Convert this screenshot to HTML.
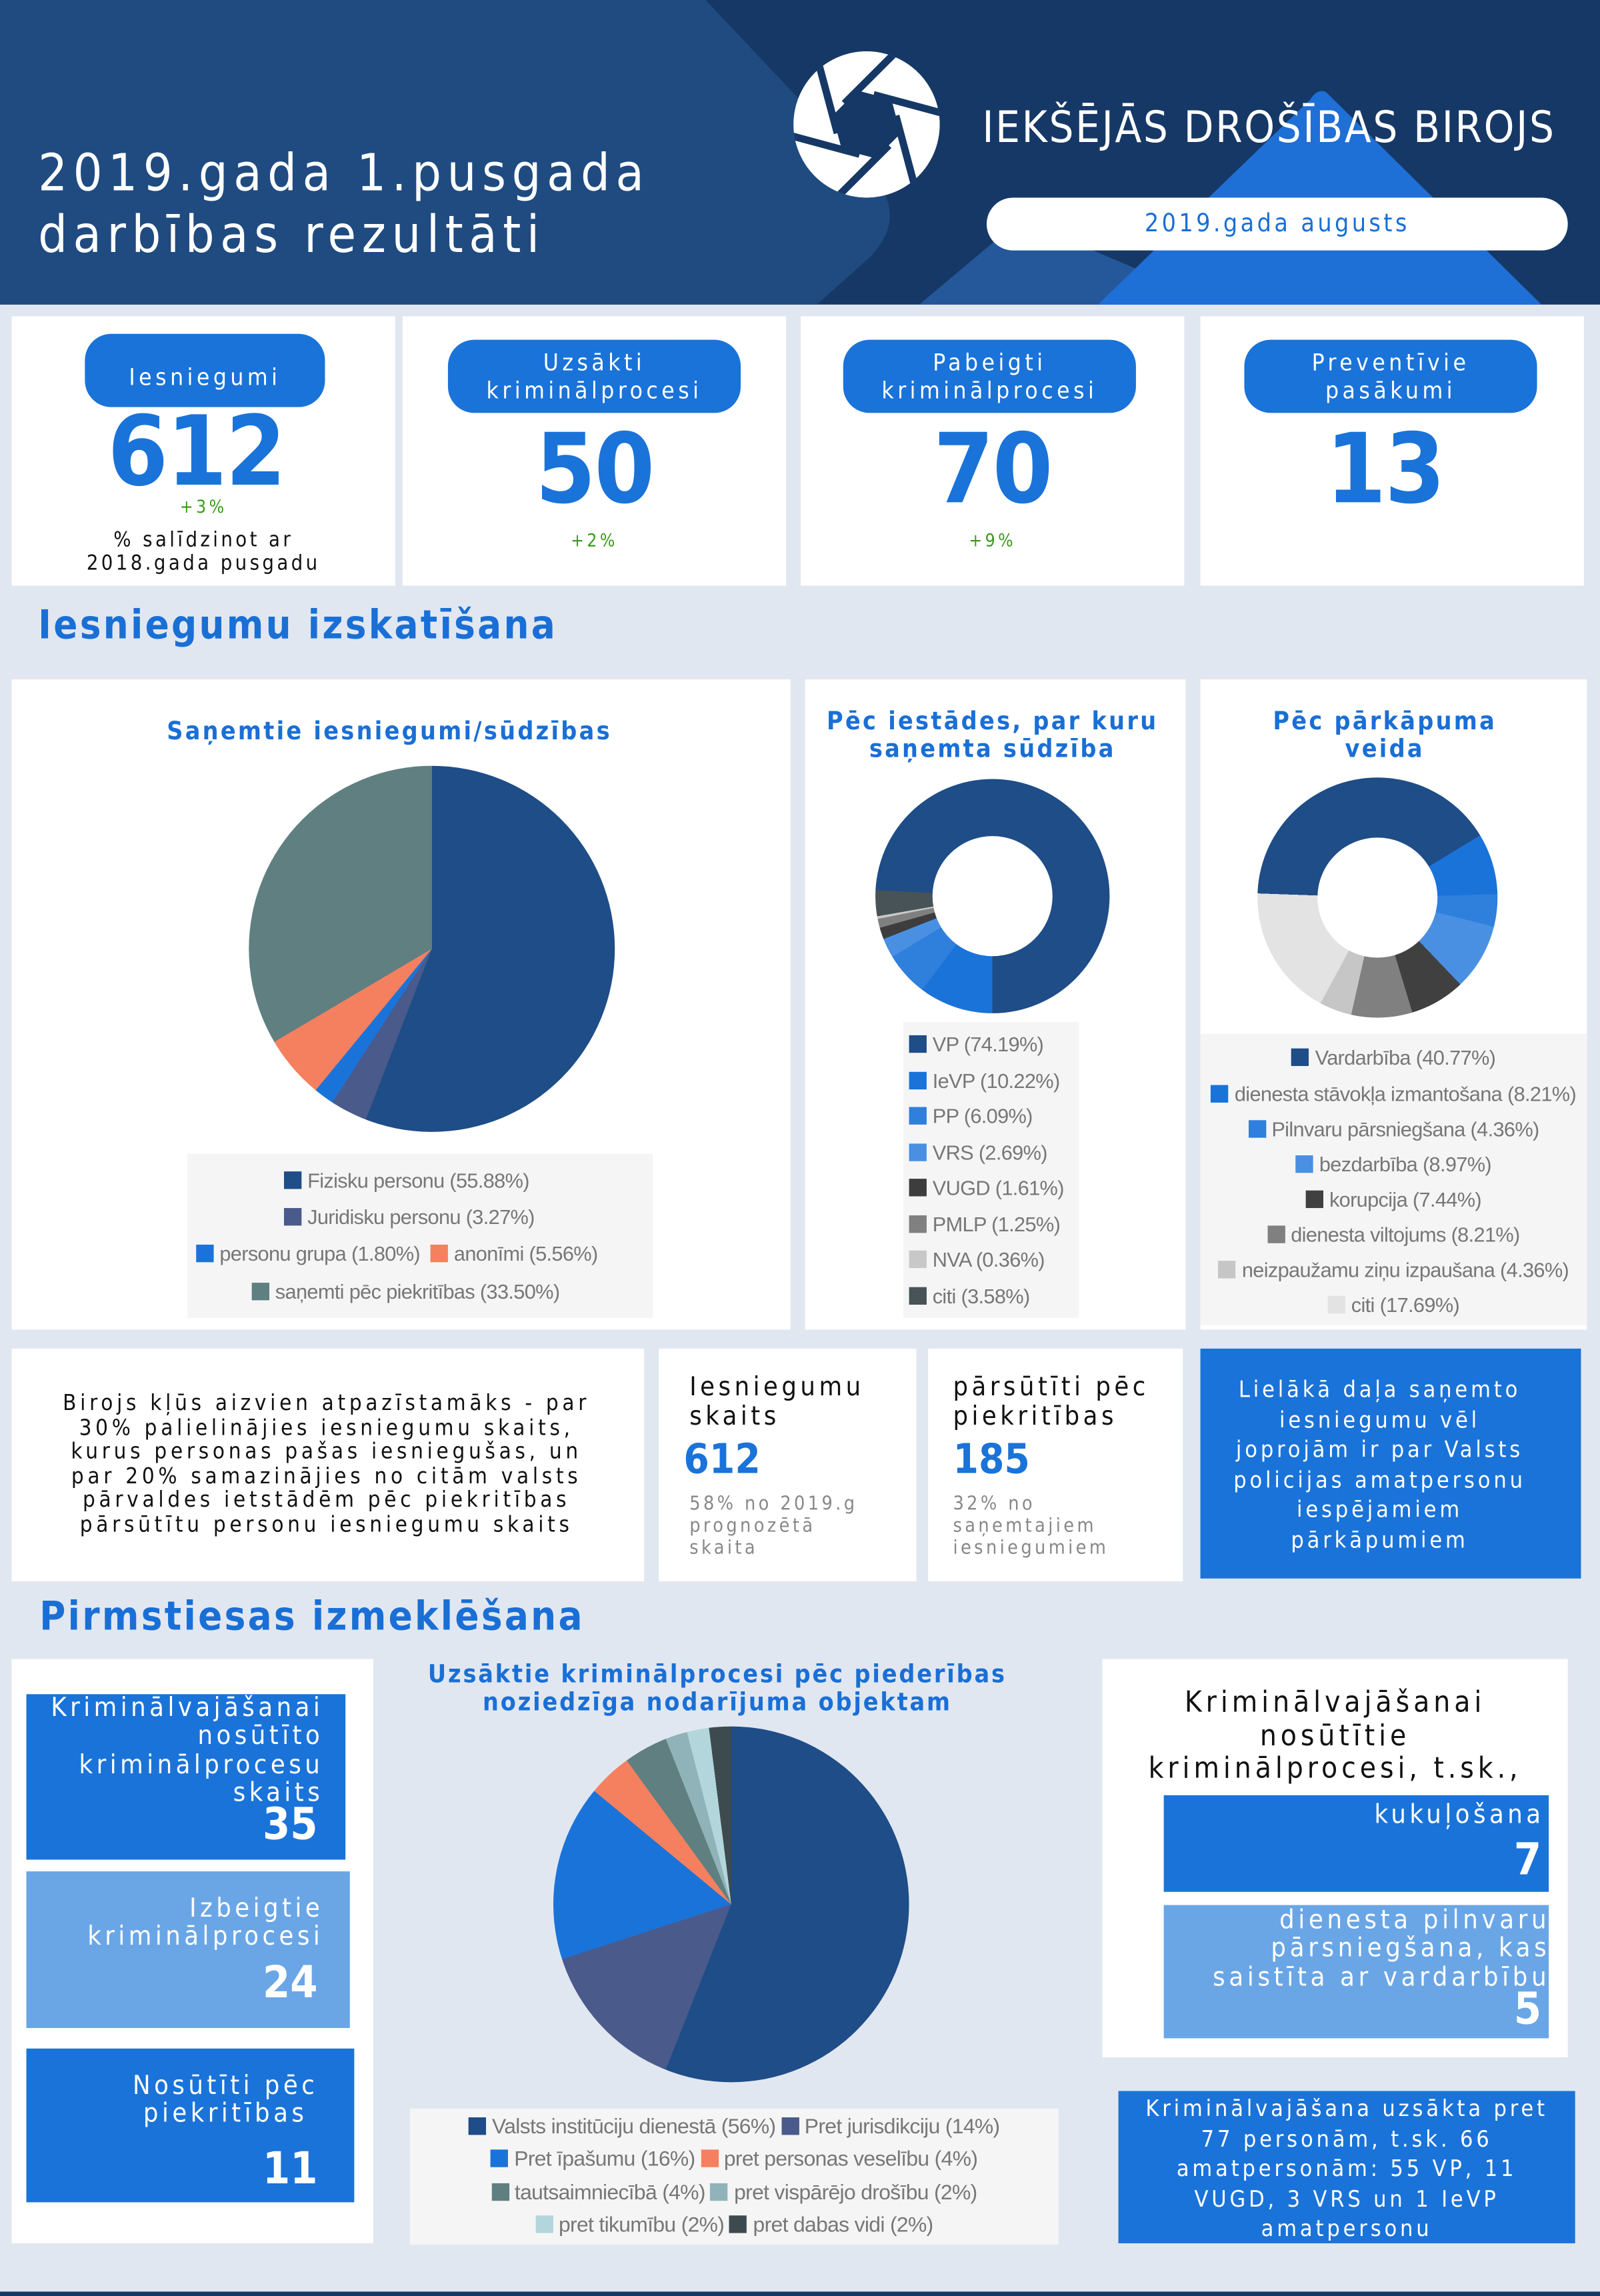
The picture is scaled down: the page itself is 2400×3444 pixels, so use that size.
<!DOCTYPE html>
<html><head><meta charset="utf-8"><style>
html,body{margin:0;padding:0;}
body{width:2400px;height:3444px;overflow:hidden;background:#e1e7f0;}
#w{position:absolute;left:0;top:0;width:1093px;height:1568px;transform:scale(2.19579,2.19643);transform-origin:0 0;background:#e1e7f0;font-family:"DejaVu Sans Condensed","DejaVu Sans",sans-serif;}
.a{position:absolute;}
.card{position:absolute;background:#fff;}
.pill{position:absolute;background:#1a73d9;color:#fff;border-radius:18px;text-align:center;font-size:16px;letter-spacing:2.5px;line-height:19px;display:flex;align-items:center;justify-content:center;}
.big{position:absolute;color:#1a73d9;font-family:"DejaVu Sans Condensed",sans-serif;font-weight:bold;font-size:66px;text-align:center;letter-spacing:-1px;}
.grn{position:absolute;color:#3a9a1a;font-size:12px;letter-spacing:2px;text-align:center;}
.h{position:absolute;color:#1a6fd6;font-weight:bold;font-size:27px;letter-spacing:1.5px;}
.ct{position:absolute;color:#1a6fd6;font-weight:bold;font-size:17px;letter-spacing:1.5px;text-align:center;line-height:19px;}
.lg{position:absolute;background:#f5f5f5;font-family:"Liberation Sans",sans-serif;font-size:14px;color:#777;letter-spacing:-0.3px;}
.lg div{position:absolute;white-space:nowrap;}
.sw{display:inline-block;width:12px;height:12px;vertical-align:-1px;margin-right:4px;}
.bl{position:absolute;color:#fff;text-align:right;font-size:18px;letter-spacing:2.5px;line-height:19.3px;white-space:nowrap;}
.num{position:absolute;color:#fff;text-align:right;font-family:"DejaVu Sans Condensed",sans-serif;font-weight:bold;font-size:30px;line-height:30px;}
</style></head><body><div id="w">
<!-- header -->
<div class="a" style="left:0;top:0;width:1093px;height:208px;background:#163866;overflow:hidden;">
<svg width="1093" height="208" style="position:absolute;left:0;top:0">
<defs><clipPath id="cc"><circle r="50"/></clipPath></defs>
<path d="M0 0 H482 L600 125 Q618 150 595 175 L558 208 H0 Z" fill="#1f4b80"/>
<path d="M697 150 L628 208 H834 Z" fill="#24589a"/>
<path d="M906 63 Q900 60 895 68 L750 208 H1053 Z" fill="#1e6fd6"/>
<g transform="translate(592,85)" clip-path="url(#cc)">
<circle r="50" fill="#fff"/>
<polygon points="23.2,6.2 6.2,23.2 -17,17 -23.2,-6.2 -6.2,-23.2 17,-17" fill="#163866"/>
<g stroke="#163866" stroke-width="5">
<line x1="20" y1="-6" x2="38.8" y2="64.4"/>
<line x1="20" y1="-6" x2="38.8" y2="64.4" transform="rotate(60)"/>
<line x1="20" y1="-6" x2="38.8" y2="64.4" transform="rotate(120)"/>
<line x1="20" y1="-6" x2="38.8" y2="64.4" transform="rotate(180)"/>
<line x1="20" y1="-6" x2="38.8" y2="64.4" transform="rotate(240)"/>
<line x1="20" y1="-6" x2="38.8" y2="64.4" transform="rotate(300)"/>
</g></g>
</svg>
<div class="a" style="left:26px;top:98px;color:#fff;font-size:35px;letter-spacing:3.9px;line-height:42px;">2019.gada 1.pusgada<br>darbības rezultāti</div>
<div class="a" style="left:671px;top:70px;color:#fff;font-size:29.5px;letter-spacing:1.2px;">IEKŠĒJĀS DROŠĪBAS BIROJS</div>
<div class="a" style="left:674px;top:135px;width:397px;height:36px;border-radius:18px;background:#fff;color:#1a6fd6;font-size:17px;letter-spacing:2px;text-align:center;line-height:36px;">2019.gada augusts</div>
</div>
<!-- KPI -->
<div class="card" style="left:8px;top:216px;width:262px;height:184px"></div>
<div class="card" style="left:275px;top:216px;width:262px;height:184px"></div>
<div class="card" style="left:547px;top:216px;width:262px;height:184px"></div>
<div class="card" style="left:820px;top:216px;width:262px;height:184px"></div>
<div class="pill" style="left:58px;top:228px;width:164px;height:50px;padding-top:8px;box-sizing:border-box;">Iesniegumi</div>
<div class="pill" style="left:306px;top:232px;width:200px;height:50px;">Uzsākti<br>kriminālprocesi</div>
<div class="pill" style="left:576px;top:232px;width:200px;height:50px;">Pabeigti<br>kriminālprocesi</div>
<div class="pill" style="left:850px;top:232px;width:200px;height:50px;">Preventīvie<br>pasākumi</div>
<div class="big" style="left:8px;top:270px;width:252px;">612</div>
<div class="grn" style="left:8px;top:339px;width:262px;">+3%</div>
<div class="a" style="left:8px;top:361px;width:262px;text-align:center;font-size:14px;letter-spacing:2px;line-height:16px;color:#111;">% salīdzinot ar<br>2018.gada pusgadu</div>
<div class="big" style="left:275px;top:282px;width:262px;">50</div>
<div class="grn" style="left:275px;top:362px;width:262px;">+2%</div>
<div class="big" style="left:547px;top:282px;width:262px;">70</div>
<div class="grn" style="left:547px;top:362px;width:262px;">+9%</div>
<div class="big" style="left:820px;top:282px;width:252px;">13</div>
<div class="h" style="left:26px;top:412px;">Iesniegumu izskatīšana</div>
<!-- row2 -->
<div class="card" style="left:8px;top:464px;width:532px;height:444px"></div>
<div class="card" style="left:550px;top:464px;width:260px;height:444px"></div>
<div class="card" style="left:820px;top:464px;width:264px;height:444px"></div>
<div class="ct" style="left:0px;top:491px;width:532px;">Saņemtie iesniegumi/sūdzības</div>
<div class="ct" style="left:548px;top:484px;width:260px;">Pēc iestādes, par kuru<br>saņemta sūdzība</div>
<div class="ct" style="left:820px;top:484px;width:252px;">Pēc pārkāpuma<br>veida</div>
<div class="a" style="left:170px;top:523px;width:250px;height:250px;border-radius:50%;background:conic-gradient(#1e4d87 0 55.88%,#4a5a8a 55.88% 59.15%,#1a73d9 59.15% 60.95%,#f5805f 60.95% 66.51%,#607f80 66.51% 100%);"></div>
<div class="a" style="left:598px;top:532px;width:160px;height:160px;border-radius:50%;background:conic-gradient(from -87deg,#1e4d87 0 74.19%,#1a73d9 74.19% 84.41%,#2f7fdc 84.41% 90.5%,#4a90e2 90.5% 93.19%,#3d3d3d 93.19% 94.8%,#808080 94.8% 96.05%,#c8c8c8 96.05% 96.41%,#475357 96.41% 100%);"></div>
<div class="a" style="left:637px;top:571px;width:82px;height:82px;border-radius:50%;background:#fff"></div>
<div class="a" style="left:859px;top:531px;width:164px;height:164px;border-radius:50%;background:conic-gradient(from -88deg,#1e4d87 0 40.77%,#1a73d9 40.77% 48.98%,#2f7fdc 48.98% 53.34%,#4a90e2 53.34% 62.31%,#404040 62.31% 69.75%,#808080 69.75% 77.96%,#c6c6c6 77.96% 82.32%,#e3e3e3 82.32% 100%);"></div>
<div class="a" style="left:900px;top:572px;width:82px;height:82px;border-radius:50%;background:#fff"></div>
<div class="lg" style="left:128px;top:788px;width:318px;height:112px;">
<div style="left:66px;top:10px"><span class="sw" style="background:#1e4d87"></span>Fizisku personu (55.88%)</div>
<div style="left:66px;top:35px"><span class="sw" style="background:#4a5a8a"></span>Juridisku personu (3.27%)</div>
<div style="left:6px;top:60px"><span class="sw" style="background:#1a73d9"></span>personu grupa (1.80%) &nbsp;<span class="sw" style="background:#f5805f"></span>anonīmi (5.56%)</div>
<div style="left:44px;top:86px"><span class="sw" style="background:#607f80"></span>saņemti pēc piekritības (33.50%)</div>
</div>
<div class="lg" style="left:617px;top:698px;width:120px;height:202px;">
<div style="left:4px;top:7px"><span class="sw" style="background:#1e4d87"></span>VP (74.19%)</div>
<div style="left:4px;top:32px"><span class="sw" style="background:#1a73d9"></span>IeVP (10.22%)</div>
<div style="left:4px;top:56px"><span class="sw" style="background:#2f7fdc"></span>PP (6.09%)</div>
<div style="left:4px;top:81px"><span class="sw" style="background:#4a90e2"></span>VRS (2.69%)</div>
<div style="left:4px;top:105px"><span class="sw" style="background:#3d3d3d"></span>VUGD (1.61%)</div>
<div style="left:4px;top:130px"><span class="sw" style="background:#808080"></span>PMLP (1.25%)</div>
<div style="left:4px;top:154px"><span class="sw" style="background:#c8c8c8"></span>NVA (0.36%)</div>
<div style="left:4px;top:179px"><span class="sw" style="background:#475357"></span>citi (3.58%)</div>
</div>
<div class="lg" style="left:820px;top:706px;width:264px;height:199px;text-align:center;">
<div style="left:0;width:264px;top:8px"><span class="sw" style="background:#1e4d87"></span>Vardarbība (40.77%)</div>
<div style="left:0;width:264px;top:33px"><span class="sw" style="background:#1a73d9"></span>dienesta stāvokļa izmantošana (8.21%)</div>
<div style="left:0;width:264px;top:57px"><span class="sw" style="background:#2f7fdc"></span>Pilnvaru pārsniegšana (4.36%)</div>
<div style="left:0;width:264px;top:81px"><span class="sw" style="background:#4a90e2"></span>bezdarbība (8.97%)</div>
<div style="left:0;width:264px;top:105px"><span class="sw" style="background:#404040"></span>korupcija (7.44%)</div>
<div style="left:0;width:264px;top:129px"><span class="sw" style="background:#808080"></span>dienesta viltojums (8.21%)</div>
<div style="left:0;width:264px;top:153px"><span class="sw" style="background:#c6c6c6"></span>neizpaužamu ziņu izpaušana (4.36%)</div>
<div style="left:0;width:264px;top:177px"><span class="sw" style="background:#e3e3e3"></span>citi (17.69%)</div>
</div>
<!-- row3 -->
<div class="card" style="left:8px;top:921px;width:432px;height:159px"></div>
<div class="card" style="left:450px;top:921px;width:176px;height:159px"></div>
<div class="card" style="left:634px;top:921px;width:174px;height:159px"></div>
<div class="a" style="left:820px;top:921px;width:260px;height:157px;background:#1a73d9"></div>
<div class="a" style="left:0px;top:950px;width:446px;text-align:center;font-size:15px;letter-spacing:2.6px;line-height:16.5px;color:#111;">Birojs kļūs aizvien atpazīstamāks - par<br>30% palielinājies iesniegumu skaits,<br>kurus personas pašas iesniegušas, un<br>par 20% samazinājies no citām valsts<br>pārvaldes ietstādēm pēc piekritības<br>pārsūtītu personu iesniegumu skaits</div>
<div class="a" style="left:471px;top:938px;font-size:18px;letter-spacing:2.5px;line-height:20px;color:#111;">Iesniegumu<br>skaits</div>
<div class="a" style="left:467px;top:980px;font-size:28px;font-weight:bold;color:#1a73d9;">612</div>
<div class="a" style="left:471px;top:1020px;font-size:13px;letter-spacing:2px;line-height:15px;color:#888;">58% no 2019.g<br>prognozētā<br>skaita</div>
<div class="a" style="left:651px;top:938px;font-size:18px;letter-spacing:2.5px;line-height:20px;color:#111;">pārsūtīti pēc<br>piekritības</div>
<div class="a" style="left:651px;top:980px;font-size:28px;font-weight:bold;color:#1a73d9;">185</div>
<div class="a" style="left:651px;top:1020px;font-size:13px;letter-spacing:2px;line-height:15px;color:#888;">32% no<br>saņemtajiem<br>iesniegumiem</div>
<div class="a" style="left:820px;top:939px;width:245px;text-align:center;color:#fff;font-size:15.5px;letter-spacing:2.2px;line-height:20.5px;">Lielākā daļa saņemto<br>iesniegumu vēl<br>joprojām ir par Valsts<br>policijas amatpersonu<br>iespējamiem<br>pārkāpumiem</div>
<div class="h" style="left:27px;top:1089px;">Pirmstiesas izmeklēšana</div>
<!-- row4 -->
<div class="card" style="left:8px;top:1133px;width:247px;height:399px"></div>
<div class="a" style="left:18px;top:1157px;width:218px;height:113px;background:#1a73d9"></div>
<div class="a" style="left:18px;top:1278px;width:221px;height:107px;background:#6aa6e6"></div>
<div class="a" style="left:18px;top:1399px;width:224px;height:105px;background:#1a73d9"></div>
<div class="bl" style="right:872px;top:1157px;">Kriminālvajāšanai<br>nosūtīto<br>kriminālprocesu<br>skaits</div>
<div class="num" style="right:876px;top:1232px;">35</div>
<div class="bl" style="right:872px;top:1294px;">Izbeigtie<br>kriminālprocesi</div>
<div class="num" style="right:876px;top:1340px;">24</div>
<div class="bl" style="left:44px;top:1415px;width:220px;text-align:center;">Nosūtīti pēc<br>piekritības</div>
<div class="num" style="right:876px;top:1467px;">11</div>
<div class="ct" style="left:270px;top:1135px;width:440px;line-height:19px;letter-spacing:1.3px;">Uzsāktie kriminālprocesi pēc piederības<br>noziedzīga nodarījuma objektam</div>
<div class="a" style="left:378px;top:1179px;width:243px;height:243px;border-radius:50%;background:conic-gradient(#1e4d87 0 56%,#4a5a8a 56% 70%,#1a73d9 70% 86%,#f5805f 86% 90%,#5f7f80 90% 94%,#8fb3b8 94% 96%,#b3d6dc 96% 98%,#3d4b4f 98% 100%);"></div>
<div class="lg" style="left:280px;top:1440px;width:443px;height:93px;text-align:center;font-size:14.5px;">
<div style="left:0;width:443px;top:5px"><span class="sw" style="background:#1e4d87"></span>Valsts institūciju dienestā (56%) <span class="sw" style="background:#4a5a8a"></span>Pret jurisdikciju (14%)</div>
<div style="left:0;width:443px;top:27px"><span class="sw" style="background:#1a73d9"></span>Pret īpašumu (16%) <span class="sw" style="background:#f5805f"></span>pret personas veselību (4%)</div>
<div style="left:0;width:443px;top:50px"><span class="sw" style="background:#5f7f80"></span>tautsaimniecībā (4%) <span class="sw" style="background:#8fb3b8"></span>pret vispārējo drošību (2%)</div>
<div style="left:0;width:443px;top:72px"><span class="sw" style="background:#b3d6dc"></span>pret tikumību (2%) <span class="sw" style="background:#3d4b4f"></span>pret dabas vidi (2%)</div>
</div>
<div class="card" style="left:753px;top:1133px;width:318px;height:272px"></div>
<div class="a" style="left:753px;top:1151px;width:318px;text-align:center;font-size:20px;letter-spacing:2.7px;line-height:22.5px;color:#111;">Kriminālvajāšanai<br>nosūtītie<br>kriminālprocesi, t.sk.,</div>
<div class="a" style="left:795px;top:1226px;width:263px;height:66px;background:#1a73d9"></div>
<div class="a" style="left:795px;top:1301px;width:263px;height:91px;background:#6aa6e6"></div>
<div class="bl" style="right:38px;top:1230px;">kukuļošana</div>
<div class="num" style="right:40px;top:1256px;">7</div>
<div class="bl" style="right:34px;top:1302px;letter-spacing:2.6px;">dienesta pilnvaru<br>pārsniegšana, kas<br>saistīta ar vardarbību</div>
<div class="num" style="right:40px;top:1358px;">5</div>
<div class="a" style="left:764px;top:1428px;width:312px;height:104px;background:#1a73d9;color:#fff;text-align:center;font-size:15.5px;letter-spacing:2.2px;line-height:20.5px;padding-top:2px;box-sizing:border-box;white-space:nowrap;">Kriminālvajāšana uzsākta pret<br>77 personām, t.sk. 66<br>amatpersonām: 55 VP, 11<br>VUGD, 3 VRS un 1 IeVP<br>amatpersonu</div>
<div class="a" style="left:0;top:1565px;width:1093px;height:3px;background:#163866"></div>
</div></body></html>
